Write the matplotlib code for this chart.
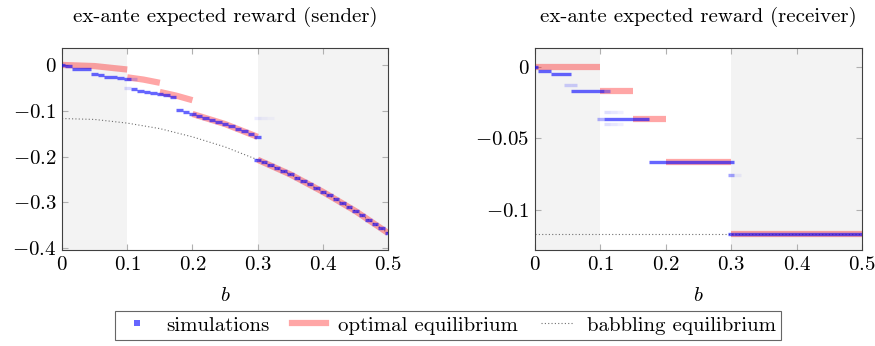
import matplotlib as mpl
import matplotlib.pyplot as plt
from matplotlib.lines import Line2D
import numpy as np

# bias values at which the simulations were run
b_grid = np.linspace(0, 0.5, 51)

# simulated ex-ante reward (most frequent outcome per b)
sender_sim = [-0.001, -0.002, -0.009, -0.009, -0.009, -0.020, -0.021, -0.026, -0.027, -0.028,
              -0.031, -0.053, -0.056, -0.059, -0.062, -0.064, -0.066, -0.069, -0.099, -0.103,
              -0.107, -0.111, -0.115, -0.120, -0.124, -0.129, -0.134, -0.140, -0.145, -0.151,
              -0.157, -0.213, -0.219, -0.226, -0.232, -0.239, -0.246, -0.254, -0.261, -0.269,
              -0.277, -0.285, -0.293, -0.302, -0.310, -0.319, -0.328, -0.338, -0.347, -0.357,
              -0.367]
receiver_sim = [0.0, -0.0033, -0.0033, -0.0049, -0.0049, -0.0049, -0.0167, -0.0167, -0.0167, -0.0167,
                -0.0167, -0.0367, -0.0367, -0.0367, -0.0367, -0.0367, -0.0367, -0.0367, -0.0667, -0.0667,
                -0.0667, -0.0667, -0.0667, -0.0667, -0.0667, -0.0667, -0.0667, -0.0667, -0.0667, -0.0667,
                -0.0667, -0.1167, -0.1167, -0.1167, -0.1167, -0.1167, -0.1167, -0.1167, -0.1167, -0.1167,
                -0.1167, -0.1167, -0.1167, -0.1167, -0.1167, -0.1167, -0.1167, -0.1167, -0.1167, -0.1167,
                -0.1167]

# less frequent simulation outcomes: b, value, share of runs
sender_rare_b = [0.10, 0.11, 0.30, 0.30, 0.31, 0.32]
sender_rare_val = [-0.051, -0.031, -0.207, -0.116, -0.116, -0.116]
sender_rare_share = [0.25, 0.3, 1.0, 0.12, 0.08, 0.05]
receiver_rare_b = [0.05, 0.06, 0.10, 0.11, 0.11, 0.12, 0.13, 0.11, 0.12, 0.13, 0.30, 0.30, 0.31]
receiver_rare_val = [-0.0126, -0.0126, -0.0367, -0.0167, -0.032, -0.032, -0.032, -0.040, -0.040, -0.040,
                     -0.1167, -0.076, -0.076]
receiver_rare_share = [0.3, 0.3, 0.5, 0.6, 0.2, 0.15, 0.1, 0.2, 0.15, 0.1, 1.0, 0.6, 0.1]

# optimal equilibrium, one list per partition regime
sender_opt_b = [[0, 0.05, 0.1], [0.1, 0.125, 0.15], [0.15, 0.175, 0.2], [0.2, 0.25, 0.3],
                [0.3, 0.35, 0.4, 0.45, 0.5]]
sender_opt_val = [[0, -0.0025, -0.010], [-0.027, -0.032, -0.039], [-0.059, -0.067, -0.077],
                  [-0.107, -0.129, -0.157], [-0.207, -0.239, -0.277, -0.319, -0.367]]
receiver_opt_b = [[0, 0.1], [0.1, 0.15], [0.15, 0.2], [0.2, 0.3], [0.3, 0.5]]
receiver_opt_val = [[0, 0], [-0.0167, -0.0167], [-0.0367, -0.0367], [-0.0667, -0.0667], [-0.1167, -0.1167]]

# babbling equilibrium
babble_b = [0, 0.05, 0.1, 0.15, 0.2, 0.25, 0.3, 0.35, 0.4, 0.45, 0.5]
sender_babble = [-0.117, -0.119, -0.127, -0.139, -0.157, -0.179, -0.207, -0.239, -0.277, -0.319, -0.367]
receiver_babble = [-0.1167] * 11

shaded = [(0, 0.1), (0.3, 0.5)]
x_ticks = [0, 0.1, 0.2, 0.3, 0.4, 0.5]
x_ticklabels = ['$0$', '$0.1$', '$0.2$', '$0.3$', '$0.4$', '$0.5$']
sender_yticks = [0, -0.1, -0.2, -0.3, -0.4]
sender_yticklabels = ['$0$', '$-0.1$', '$-0.2$', '$-0.3$', '$-0.4$']
receiver_yticks = [0, -0.05, -0.1]
receiver_yticklabels = ['$0$', '$-0.05$', '$-0.1$']

SIM_COLOR = 'blue'
OPT_COLOR = 'red'
FS = 15
HALF = 0.005  # half length of one simulation dash


def dash_path(bs, vals):
    # one path of short horizontal dashes, so alpha does not pile up where they touch
    xs, ys = [], []
    for b, v in zip(bs, vals):
        xs += [b - HALF, b + HALF, np.nan]
        ys += [v, v, np.nan]
    return xs, ys


def draw_panel(ax, sim, rare_b, rare_val, rare_share, opt_b, opt_val, babble, title, ylim, yticks, yticklabels):
    for lo, hi in shaded:
        ax.axvspan(lo, hi, color='#f3f3f3', lw=0, zorder=0)
    ax.plot(babble_b, babble, ls=(0, (1, 2)), color='#707070', lw=0.8, zorder=1)
    for bb, vv in zip(opt_b, opt_val):
        ax.plot(bb, vv, color=OPT_COLOR, alpha=0.35, lw=4.5, solid_capstyle='butt', zorder=2)
    xs, ys = dash_path(b_grid, sim)
    ax.plot(xs, ys, color=SIM_COLOR, alpha=0.6, lw=2.4, solid_capstyle='butt', zorder=3)
    for bb, vv, s in zip(rare_b, rare_val, rare_share):
        ax.plot([bb - HALF, bb + HALF], [vv, vv], color=SIM_COLOR, alpha=0.6 * s, lw=2.4,
                solid_capstyle='butt', zorder=3)

    ax.set_xlim(0, 0.5)
    ax.set_ylim(*ylim)
    ax.set_xticks(x_ticks, x_ticklabels)
    ax.set_yticks(yticks, yticklabels)
    ax.tick_params(direction='in', top=True, right=True, length=4, color='#b0b0b0',
                   labelsize=FS, pad=4)
    for sp in ax.spines.values():
        sp.set_color('#404040')
        sp.set_linewidth(0.8)
    ax.set_xlabel('$b$', fontsize=FS, labelpad=10)
    ax.set_title(title, fontsize=FS, pad=19)


def main():
    plt.rcParams['font.family'] = ['cmr10']
    plt.rcParams['mathtext.fontset'] = 'cm'
    plt.rcParams['axes.formatter.use_mathtext'] = True

    fig = plt.figure(figsize=(8.75, 3.46), dpi=100)
    ax1 = fig.add_axes([0.0709, 0.2775, 0.3726, 0.5838])
    ax2 = fig.add_axes([0.6114, 0.2775, 0.3737, 0.5838])

    draw_panel(ax1, sender_sim, sender_rare_b, sender_rare_val, sender_rare_share,
               sender_opt_b, sender_opt_val, sender_babble,
               'ex-ante expected reward (sender)', (-0.404, 0.037), sender_yticks, sender_yticklabels)
    draw_panel(ax2, receiver_sim, receiver_rare_b, receiver_rare_val, receiver_rare_share,
               receiver_opt_b, receiver_opt_val, receiver_babble,
               'ex-ante expected reward (receiver)', (-0.128, 0.013), receiver_yticks, receiver_yticklabels)

    handles = [
        Line2D([], [], ls='none', marker='s', markersize=4.5, color=SIM_COLOR, alpha=0.6, markeredgewidth=0),
        Line2D([], [], color=OPT_COLOR, alpha=0.35, lw=4.5),
        Line2D([], [], ls=(0, (1, 2)), color='#707070', lw=0.8),
    ]
    labels = ['simulations', 'optimal equilibrium', 'babbling equilibrium']
    leg = fig.legend(handles, labels, loc='lower center', bbox_to_anchor=(0.512, 0.0), ncol=3,
                     fontsize=FS, frameon=True, fancybox=False, edgecolor='#404040',
                     handlelength=1.6, handletextpad=0.6, columnspacing=1.1,
                     borderpad=0.25, borderaxespad=0.3)
    leg.get_frame().set_linewidth(0.8)

    fig.savefig('out.png', dpi=100)


if __name__ == '__main__':
    main()
